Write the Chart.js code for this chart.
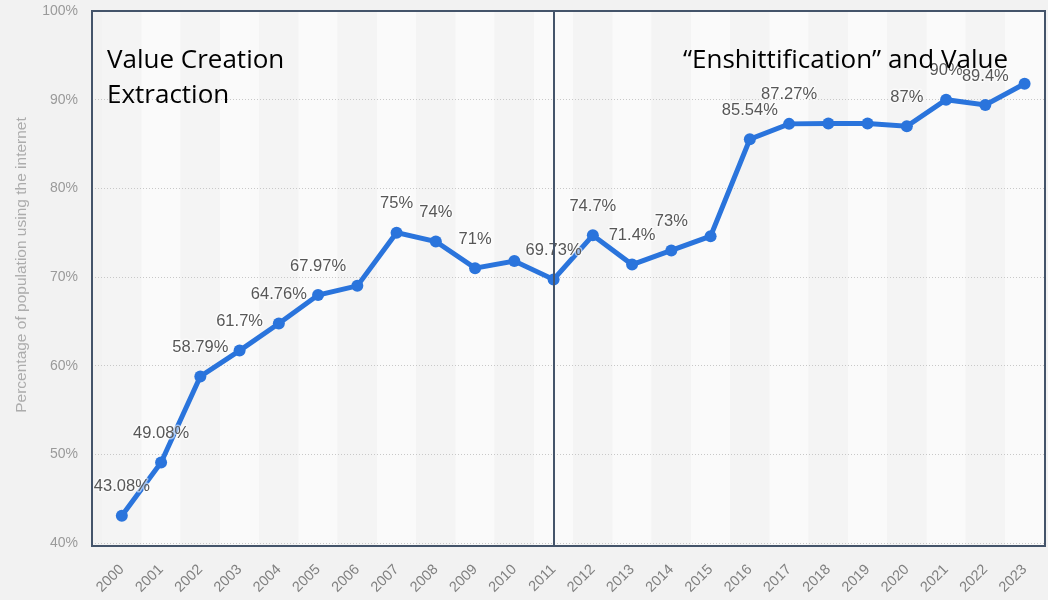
<!DOCTYPE html>
<html>
<head>
<meta charset="utf-8">
<title>Internet usage</title>
<script src="https://cdn.jsdelivr.net/npm/chart.js@4/dist/chart.umd.min.js"></script>
<style>
  html, body { margin: 0; padding: 0; background: #f2f2f2; }
  canvas { display: block; }
</style>
</head>
<body>
<canvas id="usageChart" width="1048" height="600"></canvas>
<script>
// share of population using the internet, by year
const years = [2000, 2001, 2002, 2003, 2004, 2005, 2006, 2007, 2008, 2009, 2010, 2011,
               2012, 2013, 2014, 2015, 2016, 2017, 2018, 2019, 2020, 2021, 2022, 2023];
const usage = [43.08, 49.08, 58.79, 61.7, 64.76, 67.97, 69, 75, 74, 71, 71.8, 69.73,
               74.7, 71.4, 73, 74.6, 85.54, 87.27, 87.3, 87.3, 87, 90, 89.4, 91.8];
// which points carry a value label
const labelled = [1, 1, 1, 1, 1, 1, 0, 1, 1, 1, 0, 1,
                  1, 1, 1, 0, 1, 1, 0, 0, 1, 1, 1, 0];
const yTicks = [40, 50, 60, 70, 80, 90, 100];

const yTitle = 'Percentage of population using the internet';
const splitYear = 2011;
const leftNote = ['Value Creation', 'Extraction'];
const rightNote = '\u201CEnshittification\u201D and Value';

const lineBlue = '#2a74dc';
const frameColor = '#44546a';
const sans = '"Liberation Sans", Arial, Helvetica, sans-serif';

// alternating column shading behind the plot
const bandsPlugin = {
    id: 'bands',
    beforeDraw(chart) {
        const {ctx, chartArea: a, scales: {x}} = chart;
        ctx.save();
        ctx.fillStyle = '#f2f2f2';
        ctx.fillRect(0, 0, chart.width, chart.height);
        years.forEach((yr, i) => {
            const x0 = Math.max(a.left, x.getPixelForValue(yr - 0.5));
            const x1 = Math.min(a.right, x.getPixelForValue(yr + 0.5));
            ctx.fillStyle = i % 2 ? '#fafafa' : '#f4f4f4';
            ctx.fillRect(x0, a.top, x1 - x0, a.bottom + 3 - a.top);
        });
        // vertical axis caption
        ctx.translate(22, 265);
        ctx.rotate(-Math.PI / 2);
        ctx.font = '15.5px ' + sans;
        ctx.fillStyle = '#acacac';
        ctx.textAlign = 'center';
        ctx.textBaseline = 'middle';
        ctx.fillText(yTitle, 0, 0);
        ctx.restore();
    }
};

// percentage labels above the points
const valueLabels = {
    id: 'valueLabels',
    afterDatasetsDraw(chart) {
        const {ctx} = chart;
        const pts = chart.getDatasetMeta(0).data;
        ctx.save();
        ctx.font = '16.5px ' + sans;
        ctx.textAlign = 'center';
        ctx.textBaseline = 'middle';
        ctx.lineJoin = 'round';
        pts.forEach((p, i) => {
            if (!labelled[i]) return;
            const txt = usage[i] + '%';
            ctx.strokeStyle = 'rgba(255,255,255,0.55)';
            ctx.lineWidth = 3;
            ctx.strokeText(txt, p.x, p.y - 29);
            ctx.fillStyle = '#575757';
            ctx.fillText(txt, p.x, p.y - 29);
        });
        ctx.restore();
    }
};

// two framed panels and their headings
const framePlugin = {
    id: 'frames',
    afterDraw(chart) {
        const {ctx, chartArea: a, scales: {x}} = chart;
        const bottom = a.bottom + 3;
        const mid = Math.round(x.getPixelForValue(splitYear));
        ctx.save();
        ctx.strokeStyle = frameColor;
        ctx.lineWidth = 2;
        ctx.strokeRect(a.left, a.top, a.right - a.left, bottom - a.top);
        ctx.beginPath();
        ctx.moveTo(mid, a.top);
        ctx.lineTo(mid, bottom);
        ctx.stroke();

        ctx.fillStyle = '#000';
        ctx.font = '26px "Open Sans", sans-serif';
        ctx.textBaseline = 'alphabetic';
        ctx.textAlign = 'left';
        ctx.fillText(leftNote[0], a.left + 15, 68);
        ctx.fillText(leftNote[1], a.left + 15, 103);
        ctx.fillText(rightNote, 683, 68);
        ctx.restore();
    }
};

new Chart(document.getElementById('usageChart'), {
    type: 'line',
    data: {
        datasets: [{
            data: years.map((yr, i) => ({x: yr, y: usage[i]})),
            borderColor: lineBlue,
            backgroundColor: lineBlue,
            borderWidth: 5,
            pointRadius: 6,
            pointBackgroundColor: lineBlue,
            pointBorderWidth: 0,
            tension: 0,
            fill: false
        }]
    },
    options: {
        responsive: false,
        animation: false,
        layout: {autoPadding: false, padding: {top: 11, right: 3, left: 0, bottom: 0}},
        plugins: {legend: {display: false}, tooltip: {enabled: false}},
        scales: {
            x: {
                type: 'linear',
                min: 1999.24,
                max: 2023.52,
                afterBuildTicks: s => { s.ticks = years.map(v => ({value: v})); },
                afterFit: s => { s.height = 57; s.paddingLeft = 0; s.paddingRight = 0; },
                grid: {display: false},
                border: {display: false},
                ticks: {
                    autoSkip: false,
                    minRotation: 45,
                    maxRotation: 45,
                    padding: 10,
                    color: '#808080',
                    font: {family: sans, size: 14.5},
                    callback: v => String(v)
                }
            },
            y: {
                min: 40,
                max: 100,
                afterBuildTicks: s => { s.ticks = yTicks.map(v => ({value: v})); },
                afterFit: s => { s.width = 92; s.paddingTop = 0; s.paddingBottom = 0; },
                grid: {color: '#c8c8c8', drawTicks: false, lineWidth: 1},
                border: {display: false, dash: [1, 2]},
                ticks: {
                    padding: 14,
                    color: '#9a9a9a',
                    font: {family: sans, size: 14},
                    callback: v => v + '%'
                }
            }
        }
    },
    plugins: [bandsPlugin, valueLabels, framePlugin]
});
</script>
</body>
</html>
